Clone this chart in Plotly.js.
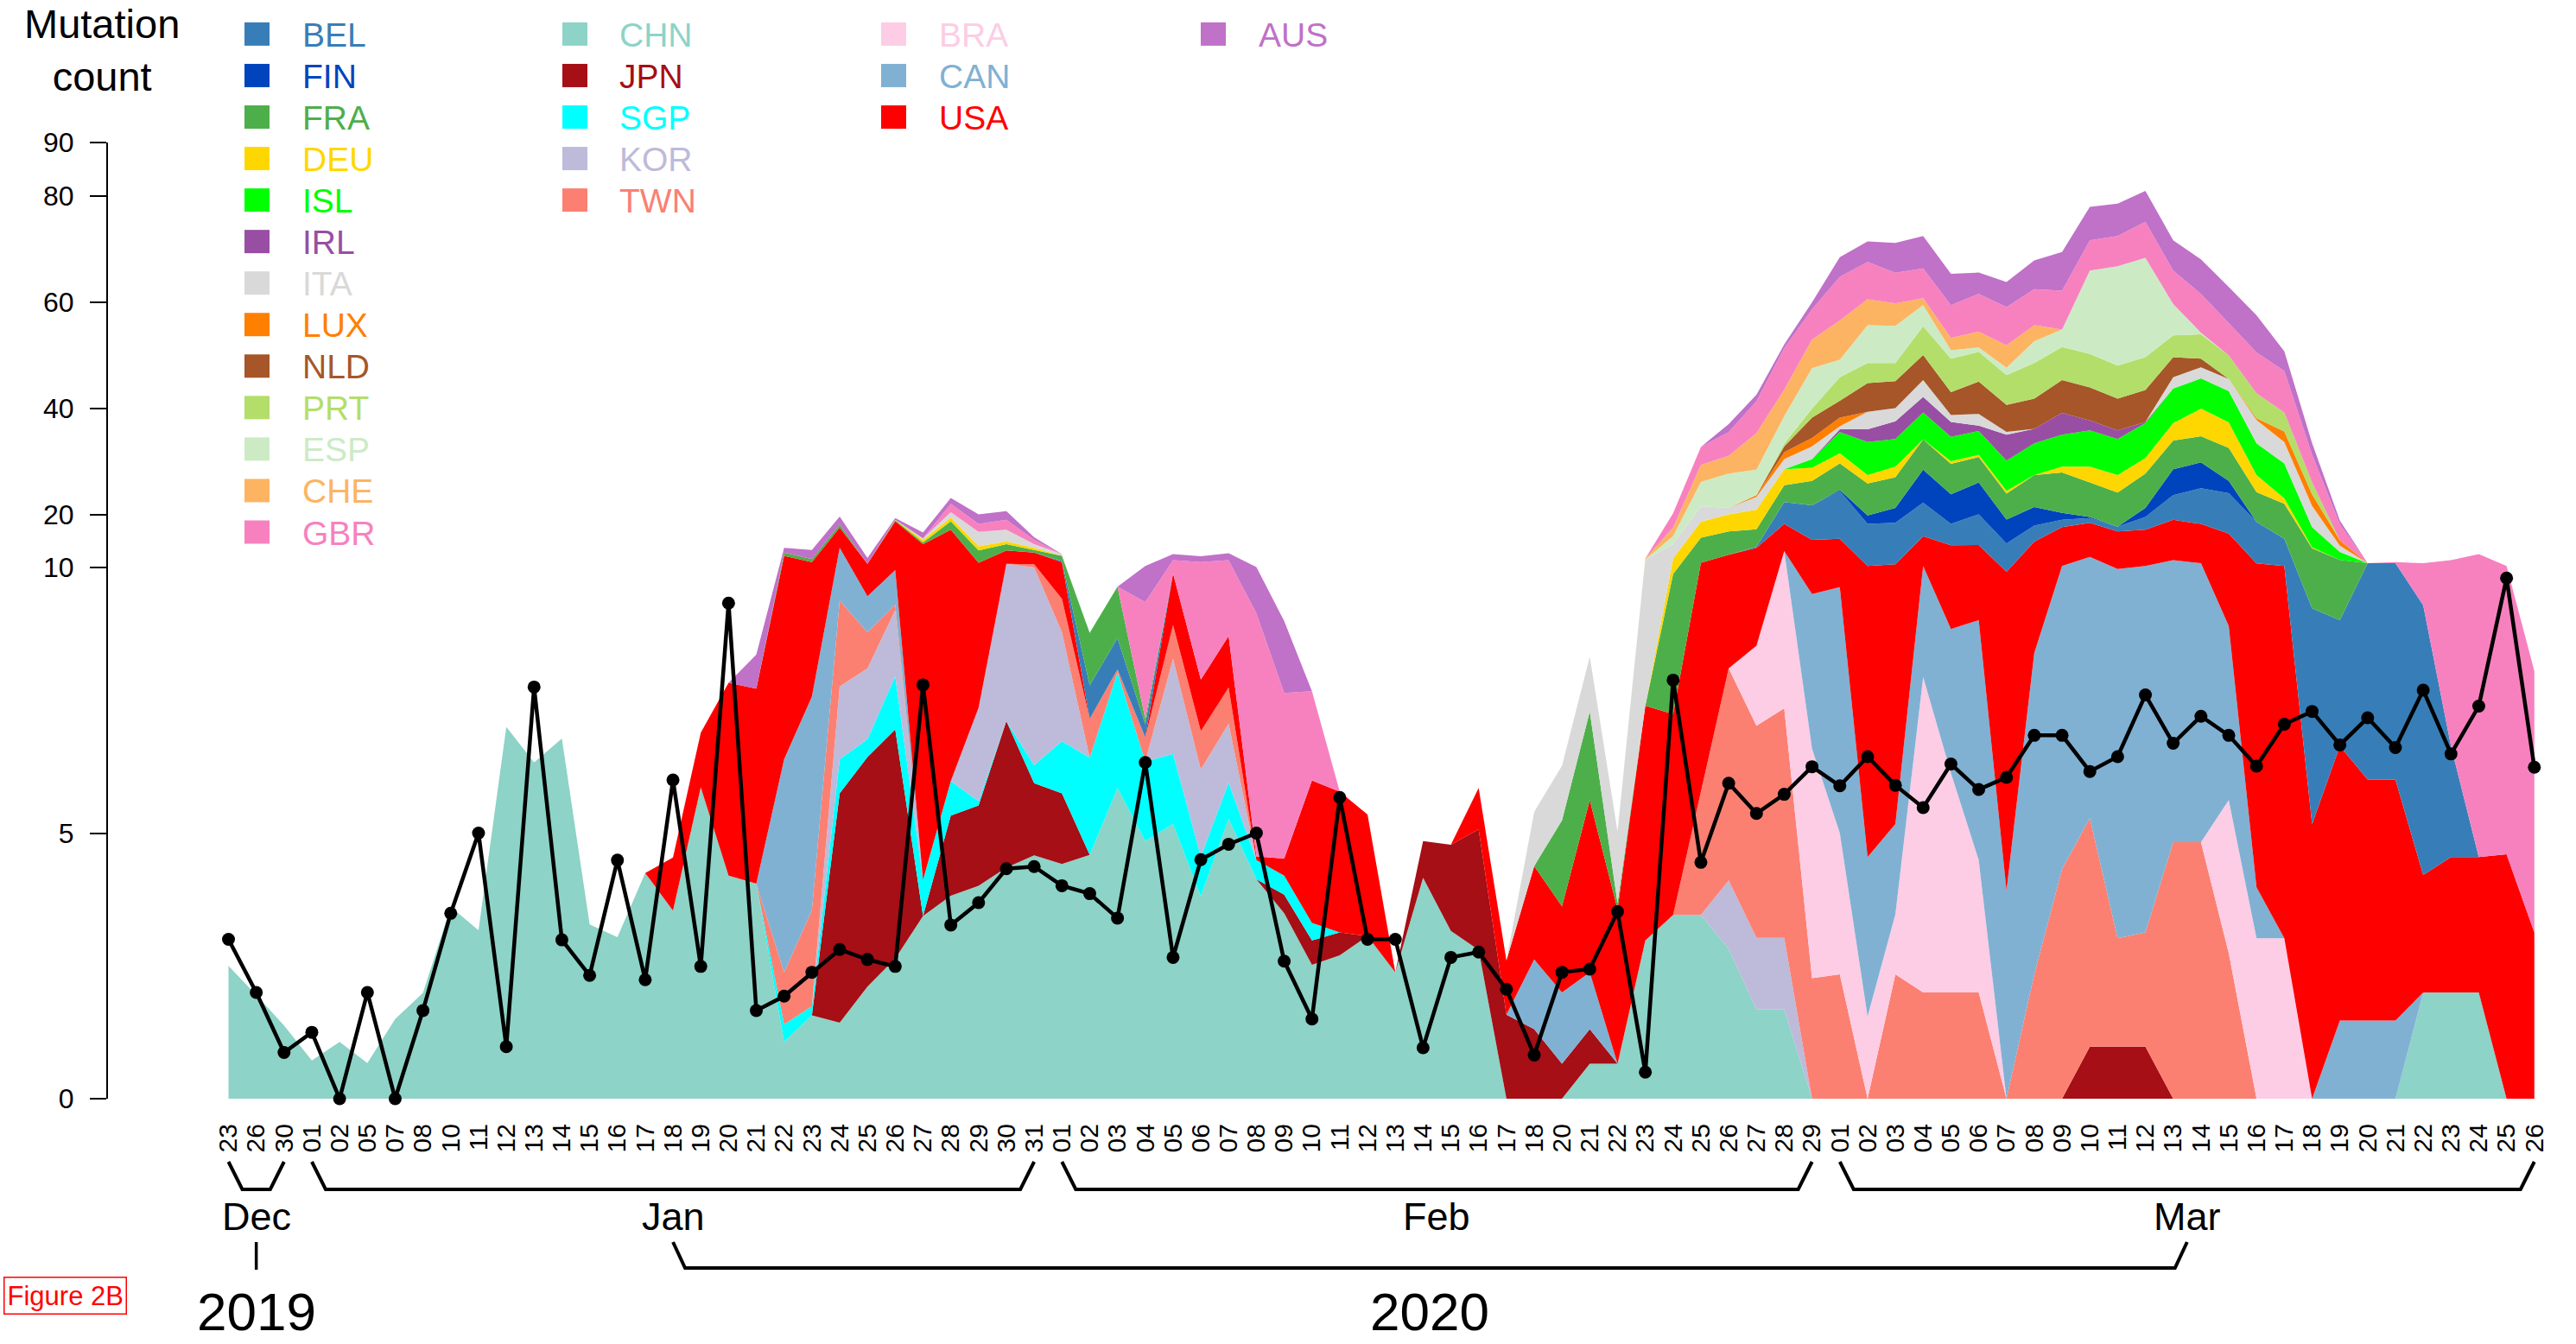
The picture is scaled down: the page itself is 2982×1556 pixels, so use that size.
<!DOCTYPE html>
<html><head><meta charset="utf-8">
<script src="https://cdn.plot.ly/plotly-3.0.1.min.js"></script>
<style>html,body{margin:0;padding:0;background:#fff}#chart{width:2982px;height:1556px}</style>
</head><body><div id="chart"></div>
<script>
// ---------- DATA ----------
const dayLabels = ["23","26","30",
 "01","02","05","07","08","10","11","12","13","14","15","16","17","18","19","20","21","22","23","24","25","26","27","28","29","30","31",
 "01","02","03","04","05","06","07","08","09","10","11","12","13","14","15","16","17","18","20","21","22","23","24","25","26","27","28","29",
 "01","02","03","04","05","06","07","08","09","10","11","12","13","14","15","16","17","18","19","20","21","22","23","24","25","26"];
const monthNames = ["Dec","Jan","Feb","Mar"];
const monthLengths = [3,27,28,26];
const yearNames = ["2019","2020"];
const yearMonthCounts = [1,3];

const mutationCount = [3.0,2.0,0.87,1.25,0,2.0,0,1.66,3.49,5.0,
 0.98,7.75,2.99,2.32,4.49,2.24,6.0,2.49,9.33,1.66,
 1.93,2.38,2.81,2.62,2.49,7.79,3.27,3.69,4.33,4.37,
 4.01,3.86,3.40,6.33,2.66,4.50,4.79,5.0,2.59,1.50,
 5.67,3.0,3.0,0.96,2.66,2.76,2.06,0.82,2.38,2.44,
 3.52,0.50,7.88,4.45,5.94,5.37,5.73,6.25,5.89,6.44,
 5.90,5.48,6.30,5.82,6.05,6.84,6.84,6.16,6.44,7.60,
 6.69,7.20,6.84,6.26,7.05,7.29,6.66,7.17,6.61,7.69,
 6.49,7.39,9.80,6.24];

const CHN = [2.5,1.95,1.38,0.72,1.07,0.67,1.5,1.99,3.61,3.17,
 7.0,6.33,6.78,3.28,3.04,4.25,3.54,5.86,4.20,4.05,
 1.07,1.57,1.43,2.11,2.64,3.44,3.82,4.01,4.35,4.58,
 4.42,4.59,5.85,4.85,5.17,3.81,5.27,4.13,3.49,2.52,
 2.70,3.06,2.38,4.16,3.16,2.8,0,0,0,0.66,
 0.66,2.98,3.46,3.46,2.82,1.68,1.68,0,0,0,
 0,0,0,0,0,0,0,0,0,0,
 0,0,0,0,0,0,0,0,0,2.0,
 2.0,2.0,0,0];
const JPN = [0,0,0,0,0,0,0,0,0,0, 0,0,0,0,0,0,0,0,0,0,
 0,0,4.32,4.32,4.31,0,1.51,1.51,2.76,1.36,
 1.33,0,0,0,0,0,0,0,0.35,0.46,
 0.43,0,0,0.69,1.62,2.27,1.58,1.31,0.66,0.65,
 0,0,0,0,0,0,0,0,0,0,
 0,0,0,0,0,0,0,0.98,0.98,0.98,
 0,0,0,0,0,0,0,0,0,0, 0,0,0,0];
const SGP = [0,0,0,0,0,0,0,0,0,0, 0,0,0,0,0,0,0,0,0,0,
 0.33,0.17,0.64,0.34,1.0,0.68,0.65,0.08,0,0.34,
 0.98,1.83,2.18,1.5,1.32,0.75,0.68,0.36,0.36,0.33,
 0,0,0,0,0,0,0,0,0,0, 0,0,0,0,0,0,0,0,0,0,
 0,0,0,0,0,0,0,0,0,0, 0,0,0,0,0,0,0,0,0,0, 0,0,0,0];
const KOR = [0,0,0,0,0,0,0,0,0,0, 0,0,0,0,0,0,0,0,0,0,
 0,0,1.37,1.33,1.25,0,0,1.76,3.59,3.72,
 2.05,0,0,0,1.79,1.64,1.11,0,0,0,
 0,0,0,0,0,0,0,0,0,0,
 0,0,0,0,1.29,1.35,1.35,0,0,0,
 0,0,0,0,0,0,0,0,0,0, 0,0,0,0,0,0,0,0,0,0, 0,0,0,0];
const TWN = [0,0,0,0,0,0,0,0,0,0, 0,0,0,0,0,0,0,0,0,0,
 0.98,1.81,1.62,0.68,0.1,0,0,0,0,0.6,
 0.63,0.73,0.05,0.45,0.64,0.72,0.68,0,0,0,
 0,0,0,0,0,0,0,0,0,0,
 0,0,0,2.32,3.99,3.99,4.32,2.27,2.34,0,
 2.34,2.0,2.0,2.0,0,2.34,4.32,4.3,2.04,2.15,
 4.83,4.83,2.74,0,0,0,0,0,0,0, 0,0,0,0];
const BRA = [0,0,0,0,0,0,0,0,0,0, 0,0,0,0,0,0,0,0,0,0,
 0,0,0,0,0,0,0,0,0,0, 0,0,0,0,0,0,0,0,0,0, 0,0,0,0,0,0,0,0,0,0,
 0,0,0,0,0,1.51,5.75,4.32,2.66,1.55,
 1.13,5.94,4.13,2.49,0,0,0,0,0,0,
 0,0,2.88,3.02,3.02,0,0,0,0,0, 0,0,0,0];
const CAN = [0,0,0,0,0,0,0,0,0,0, 0,0,0,0,0,0,0,0,0,0,
 4.01,4.02,4.32,0.68,0.65,0,0,0,0,0,
 0,0,0,0,0,0,0,0,0,0,
 0,0,0,0,0,0,0,1.31,1.34,1.07,
 0,0,0,0,0,0,0,2.91,4.63,3.0,
 1.7,2.36,2.71,4.52,3.92,6.05,5.98,6.72,6.95,7.17,
 6.57,5.97,3.28,0.96,0,0,1.47,1.47,1.47,0, 0,0,0,0];
const USA = [0,0,0,0,0,0,0,0,0,0,
 0,0,0,0,0,0,1.0,1.03,3.63,3.67,
 5.81,3.43,3.8,1.24,8.75,10.28,11.12,3.54,2.5,2.2,
 1.59,0,0,0,0.97,0.97,0.97,0.07,0.32,2.68,
 2.65,2.29,0,0,0,0.78,1.02,1.76,1.62,3.24,
 2.91,4.42,3.78,5.12,4.3,5.17,5.1,5.7,5.77,5.75,
 5.43,5.6,5.36,5.2,6.0,6.5,7.3,6.4,6.83,6.8,
 7.6,7.4,7.5,6.8,7.28,5.17,5.17,4.54,4.54,2.21,
 2.55,2.55,4.6,3.13];
const BEL = [0,0,0,0,0,0,0,0,0,0, 0,0,0,0,0,0,0,0,0,0, 0,0,0,0,0,0,0,0,0,0,
 0.2,0.63,0.59,0.25,0,0,0,0,0,0,
 0,0,0,0,0,0,0,0,0,0,
 0,0,0,0,0,0.2,4.1,6.5,9.0,7.9,
 7.8,6.3,4.0,5.8,4.6,3.0,1.4,0.9,0.9,2.4,
 4.6,6.7,7.6,7.8,5.1,4.06,2.37,4.8,4.8,5.08,
 2.09,0,0,0];
const FIN = [0,0,0,0,0,0,0,0,0,0, 0,0,0,0,0,0,0,0,0,0, 0,0,0,0,0,0,0,0,0,0,
 0,0,0,0,0,0,0,0,0,0, 0,0,0,0,0,0,0,0,0,0,
 0,0,0,0,0,0,0,0,0.2,1.6,
 2.8,6.2,5.6,6.0,4.5,3.5,1.3,0.2,0,1.7,
 4.9,4.9,2.3,0,0,0,0,0,0,0, 0,0,0,0];
const FRA = [0,0,0,0,0,0,0,0,0,0, 0,0,0,0,0,0,0,0,0,0,
 0.6,0.6,0.6,0,0.2,0.3,1.6,2.3,1.2,0.5,
 1.0,0.99,0.97,0.1,0,0,0,0,0,0,
 0,0,0,0,0,0,0,0,1.62,1.67,
 0.11,0,2.64,4.7,4.4,3.3,3.2,4.6,5.0,6.0,
 5.8,5.7,5.7,4.8,4.9,6.0,7.6,6.5,6.4,6.5,
 5.4,4.9,6.2,5.6,6.6,4.37,2.4,0,0,0, 0,0,0,0];
const DEU = [0,0,0,0,0,0,0,0,0,0, 0,0,0,0,0,0,0,0,0,0,
 0,0,0,0,0.1,0.5,0.7,0.8,0.5,0.4,
 0,0,0,0,0,0,0,0,0,0, 0,0,0,0,0,0,0,0,0,0,
 0,0,1.82,3.0,3.2,3.7,3.0,2.5,1.9,1.6,
 2.0,0,0.5,0.4,0.5,0,1.1,3.0,3.3,2.9,
 3.3,5.2,4.8,3.2,1.0,0.2,0,0,0,0, 0,0,0,0];
const ISL = [0,0,0,0,0,0,0,0,0,0, 0,0,0,0,0,0,0,0,0,0, 0,0,0,0,0,0,0,0,0,0,
 0,0,0,0,0,0,0,0,0,0, 0,0,0,0,0,0,0,0,0,0,
 0,0,0,0,0,0,0,1.6,4.0,6.2,
 5.2,5.1,4.6,4.5,5.7,6.0,6.0,6.8,6.8,6.6,
 6.5,5.7,5.9,6.0,6.6,3.8,1.5,0,0,0, 0,0,0,0];
const IRL = [0,0,0,0,0,0,0,0,0,0, 0,0,0,0,0,0,0,0,0,0, 0,0,0,0,0,0,0,0,0,0,
 0,0,0,0,0,0,0,0,0,0, 0,0,0,0,0,0,0,0,0,0,
 0,0,0,0,0,0,0,0,0.5,2.4,
 3.3,2.9,2.8,1.0,4.9,2.7,4.1,1.9,1.6,0.2,
 0,0,0,0,0,0,0,0,0,0, 0,0,0,0];
const ITA = [0,0,0,0,0,0,0,0,0,0, 0,0,0,0,0,0,0,0,0,0,
 0,0,0,0,0,0.3,1.0,2.7,2.2,0.7,
 0.3,0,0,0,0,0,0,0,0,0,
 0,0,0,0,0,0,0,1.02,1.03,1.03,
 1.35,4.1,2.7,2.9,1.2,2.4,1.9,2.4,0.6,3.3,
 2.5,3.2,1.3,2.2,0.5,0,0,0,0,0,
 2.1,2.1,2.3,4.4,4.0,4.0,1.2,0,0,0, 0,0,0,0];
const LUX = [0,0,0,0,0,0,0,0,0,0, 0,0,0,0,0,0,0,0,0,0, 0,0,0,0,0,0,0,0,0,0,
 0,0,0,0,0,0,0,0,0,0, 0,0,0,0,0,0,0,0,0,0,
 0,0,0,0,0,0.3,1.3,1.6,1.6,0,
 0,0,0,0,0,0,0,0,0,0,
 0,0,0,0.3,2.0,2.2,1.0,0,0,0, 0,0,0,0];
const NLD = [0,0,0,0,0,0,0,0,0,0, 0,0,0,0,0,0,0,0,0,0, 0,0,0,0,0,0,0,0,0,0,
 0,0,0,0,0,0,0,0,0,0, 0,0,0,0,0,0,0,0,0,0,
 0,0,0,0,0,0,1.1,3.8,3.2,5.4,
 5.1,4.7,4.3,6.1,5.1,5.7,6.2,6.2,6.0,6.0,
 3.8,1.6,0,0,0,0,0,0,0,0, 0,0,0,0];
const PRT = [0,0,0,0,0,0,0,0,0,0, 0,0,0,0,0,0,0,0,0,0, 0,0,0,0,0,0,0,0,0,0,
 0,0,0,0,0,0,0,0,0,0, 0,0,0,0,0,0,0,0,0,0,
 0,0,0,0,0,0,0.5,1.7,4.4,3.8,
 3.4,5.4,6.3,5.6,5.6,6.7,6.2,6.3,6.2,6.2,
 4.1,4.6,4.4,4.7,3.6,2.2,0,0,0,0, 0,0,0,0];
const ESP = [0,0,0,0,0,0,0,0,0,0, 0,0,0,0,0,0,0,0,0,0, 0,0,0,0,0,0,0,0,0,0,
 0,0,0,0,0,0,0,0,0,0, 0,0,0,0,0,0,0,0,0,0,
 0,0,1.5,4.6,6.5,4.8,5.2,7.6,3.3,7.1,
 7.0,4.0,1.6,0.8,1.4,4.1,3.3,15.7,18.7,18.7,
 5.9,0.3,0,0,0,0,0,0,0,0, 0,0,0,0];
const CHE = [0,0,0,0,0,0,0,0,0,0, 0,0,0,0,0,0,0,0,0,0, 0,0,0,0,0,0,0,0,0,0,
 0,0,0,0,0,0,0,0,0,0, 0,0,0,0,0,0,0,0,0,0,
 0,0.2,1.6,3.2,3.3,6.9,5.0,5.4,7.4,4.9,
 4.2,1.3,2.3,3.0,4.2,3.0,0,0,0,0,
 0,0,0,0,0,0,0,0,0,0, 0,0,0,0];
const GBR = [0,0,0,0,0,0,0,0,0,0, 0,0,0,0,0,0,0,0,0,0,
 0,0,0,0,0,0,1.6,1.5,1.9,0.8,
 0,0,0,2.2,1.51,3.11,2.69,4.58,3.12,1.68,
 0,0,0,0,0,0,0,0,0,0,
 0,0,2.7,3.4,4.5,6.0,7.8,5.7,8.2,7.0,
 5.8,5.6,6.2,7.1,7.2,6.8,7.3,5.7,5.7,6.8,
 6.3,7.3,6.1,7.7,7.8,5.2,3.0,0,0.2,1.51,
 4.76,7.95,5.7,4.92];
const AUS = [0,0,0,0,0,0,0,0,0,0,
 0,0,0,0,0,0,0,0,0,0.64,
 0.9,1.7,1.5,1.1,0.3,1.1,1.1,1.8,1.6,0.5,
 0,0,0,0.95,1.1,1.1,1.3,0.96,1.35,0,
 0,0,0,0,0,0,0,0,0,0,
 0,0,0,0,1.5,1.2,0.7,1.3,3.7,3.9,
 5.6,6.1,5.9,4.0,4.7,5.4,7.3,6.3,6.1,5.8,
 5.7,6.5,6.8,7.0,3.7,2.2,0.7,0,0,0, 0,0,0,0];

const yTickValues = [0,5,10,20,40,60,80,90];

// ---------- STYLE ----------
const colors = {BEL:"#377EB8",FIN:"#0044BD",FRA:"#4DAF4A",DEU:"#FFD700",ISL:"#00FF00",IRL:"#984EA3",
 ITA:"#D9D9D9",LUX:"#FF7F00",NLD:"#A65628",PRT:"#B3DE69",ESP:"#CCEBC5",CHE:"#FDB462",GBR:"#F781BF",
 CHN:"#8DD3C7",JPN:"#A50F15",SGP:"#00FFFF",KOR:"#BEBADA",TWN:"#FB8072",BRA:"#FCCDE5",CAN:"#80B1D3",
 USA:"#FF0000",AUS:"#C071C8"};
const series = {CHN,JPN,SGP,KOR,TWN,BRA,CAN,USA,BEL,FIN,FRA,DEU,ISL,IRL,ITA,LUX,NLD,PRT,ESP,CHE,GBR,AUS};
const stackOrder = ["CHN","JPN","SGP","KOR","TWN","BRA","CAN","USA","BEL","FIN","FRA","DEU","ISL","IRL","ITA","LUX","NLD","PRT","ESP","CHE","GBR","AUS"];
const legendColumns = [["BEL","FIN","FRA","DEU","ISL","IRL","ITA","LUX","NLD","PRT","ESP","CHE","GBR"],
 ["CHN","JPN","SGP","KOR","TWN"],["BRA","CAN","USA"],["AUS"]];

// broken y scale: 0-10 linear, 10-90 compressed 10x
function toDisplay(v){ return v <= 10 ? v : 10 + (v - 10) / 10; }

const FONT = "Liberation Sans, Arial, Helvetica, sans-serif";
const W = 2982, H = 1556, ML = 124, MR = 22, MT = 150, MB = 266;
const PW = W - ML - MR, PH = H - MT - MB;
const firstCatPx = 264.5, catStep = 32.16, zeroPx = 1272, unitPx = 61.5;
const xmin = -(firstCatPx - ML) / catStep, xmax = xmin + PW / catStep;
const ymax = (zeroPx - MT) / unitPx, ymin = ymax - PH / unitPx;

const px = X => (X - ML) / PW;          // pixel x -> paper
const py = Y => (MT + PH - Y) / PH;     // pixel y -> paper
const catPx = i => ML + (i - xmin) / (xmax - xmin) * PW;
const valPx = d => MT + (ymax - d) / (ymax - ymin) * PH;

const idx = dayLabels.map((_, i) => i);

// ---------- TRACES ----------
const traces = [];
let cum = idx.map(() => 0);
stackOrder.forEach((c, k) => {
  const vals = series[c];
  const top = cum.map((v, i) => v + vals[i]);
  traces.push({x: idx, y: top.map(toDisplay), type: "scatter", mode: "lines",
    line: {width: 0, color: colors[c]}, fill: k === 0 ? "tozeroy" : "tonexty",
    fillcolor: colors[c], hoverinfo: "skip", showlegend: false});
  cum = top;
});
traces.push({x: idx, y: mutationCount, type: "scatter", mode: "lines+markers",
  line: {color: "#000", width: 4.5}, marker: {color: "#000", size: 15},
  cliponaxis: false, hoverinfo: "skip", showlegend: false});

// ---------- DECORATIONS ----------
const shapes = [], annotations = [];
shapes.push({type: "line", xref: "paper", yref: "paper", x0: 0, x1: 0,
  y0: py(valPx(0)), y1: py(valPx(toDisplay(90))), line: {color: "#000", width: 2}});

function bracket(xa, xb, yTop, yBot, inset){
  const p = [[xa, yTop], [xa + inset, yBot], [xb - inset, yBot], [xb, yTop]]
    .map(([x, y], j) => (j ? "L" : "M") + px(x).toFixed(5) + "," + py(y).toFixed(5)).join(" ");
  shapes.push({type: "path", xref: "paper", yref: "paper", path: p, line: {color: "#000", width: 4}});
}
let start = 0; const monthCenters = [];
monthNames.forEach((m, k) => {
  const end = start + monthLengths[k] - 1;
  const xa = catPx(start), xb = catPx(end);
  bracket(xa, xb, 1345, 1377, 16);
  const c = (xa + xb) / 2; monthCenters.push(c);
  annotations.push({text: m, xref: "paper", yref: "paper", x: px(c), y: py(1408),
    xanchor: "center", yanchor: "middle", showarrow: false, font: {family: FONT, size: 45, color: "#000"}});
  start = end + 1;
});
let mStart = 0;
yearNames.forEach((yName, k) => {
  const mEnd = mStart + yearMonthCounts[k] - 1;
  const xa = monthCenters[mStart], xb = monthCenters[mEnd];
  if (mEnd > mStart) bracket(xa, xb, 1438, 1468, 14);
  else shapes.push({type: "line", xref: "paper", yref: "paper", x0: px(xa), x1: px(xa),
    y0: py(1438), y1: py(1470), line: {color: "#000", width: 3.5}});
  annotations.push({text: yName, xref: "paper", yref: "paper", x: px((xa + xb) / 2), y: py(1518),
    xanchor: "center", yanchor: "middle", showarrow: false, font: {family: FONT, size: 62, color: "#000"}});
  mStart = mEnd + 1;
});
annotations.push({text: "Mutation<br>count", xref: "paper", yref: "paper", x: px(118), y: py(58),
  xanchor: "center", yanchor: "middle", showarrow: false, font: {family: FONT, size: 47, color: "#000"}});
const colSquareX = [283, 651, 1020, 1390], colTextX = [348, 715, 1085, 1455];
legendColumns.forEach((col, ci) => {
  col.forEach((c, ri) => {
    const yc = 39.4 + 48.05 * ri;
    shapes.push({type: "rect", xref: "paper", yref: "paper", x0: px(colSquareX[ci]), x1: px(colSquareX[ci] + 29),
      y0: py(yc + 13.5), y1: py(yc - 13.5), fillcolor: colors[c], line: {width: 0}});
    annotations.push({text: c, xref: "paper", yref: "paper", x: px(colTextX[ci]), y: py(yc + 1),
      xanchor: "left", yanchor: "middle", showarrow: false, font: {family: FONT, size: 39, color: colors[c]}});
  });
});
annotations.push({text: "Figure 2B", xref: "paper", yref: "paper", x: px(75), y: py(1499.5),
  xanchor: "center", yanchor: "middle", showarrow: false, bordercolor: "#FF0000", borderwidth: 1.5,
  borderpad: 3, bgcolor: "#fff", font: {family: FONT, size: 31, color: "#FF0000"}});

const layout = {
  width: W, height: H, margin: {l: ML, r: MR, t: MT, b: MB, pad: 0},
  paper_bgcolor: "#fff", plot_bgcolor: "#fff", showlegend: false,
  font: {family: FONT, color: "#000"},
  xaxis: {range: [xmin, xmax], tickmode: "array", tickvals: idx, ticktext: dayLabels,
    tickangle: -90, tickfont: {family: FONT, size: 30, color: "#000"}, ticks: "",
    showline: false, showgrid: false, zeroline: false, automargin: false, fixedrange: true,
    ticklabelstandoff: 4},
  yaxis: {range: [ymin, ymax], tickmode: "array", tickvals: yTickValues.map(toDisplay),
    ticktext: yTickValues.map(String), ticks: "outside", ticklen: 19, tickwidth: 2, tickcolor: "#000",
    tickfont: {family: FONT, size: 32, color: "#000"}, showline: false, showgrid: false,
    zeroline: false, automargin: false, fixedrange: true, ticklabelstandoff: 12},
  shapes, annotations
};
Plotly.newPlot("chart", traces, layout, {displayModeBar: false, staticPlot: true});
</script></body></html>
